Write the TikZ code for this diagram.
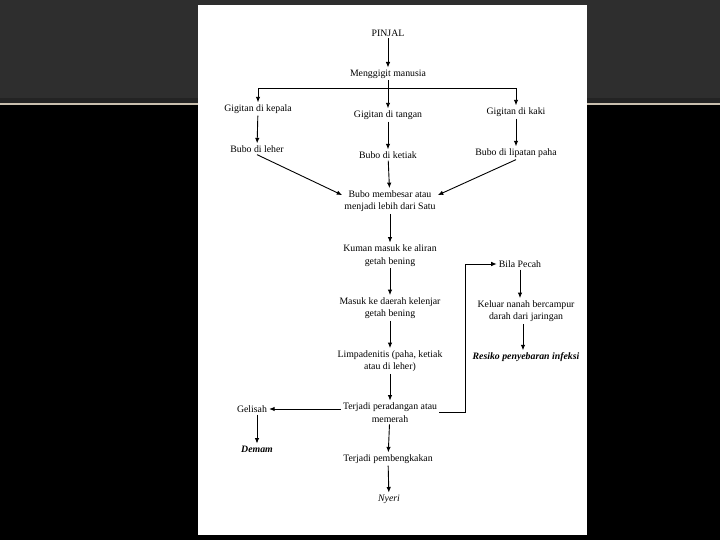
\documentclass[tikz,border=0pt]{standalone}
\usepackage{fontspec}
\setmainfont{Liberation Serif}
\usetikzlibrary{arrows.meta}

\definecolor{bandgray}{HTML}{2E2E2E}
\definecolor{banddark}{HTML}{232323}
\definecolor{bandline}{HTML}{C9BFAE}

\begin{document}
\begin{tikzpicture}[
    x=1pt, y=-1pt,
    >={Latex[length=5.5pt, width=4.5pt]},
    lbl/.style={align=center, font=\fontsize{9.8}{12.5}\selectfont, inner sep=2pt},
    lblbi/.style={lbl, font=\fontsize{9.8}{12.5}\selectfont\bfseries\itshape},
    lblit/.style={lbl, font=\fontsize{9.8}{12.5}\selectfont\itshape},
    flow/.style={->, line width=0.9pt}
]
\useasboundingbox (0,0) rectangle (720,540);

% slide background
\fill[black] (0,0) rectangle (720,540);
\fill[bandgray] (0,0) rectangle (720,98);
\fill[banddark] (0,98) rectangle (720,103);
\fill[bandline] (0,103) rectangle (720,105.5);
\fill[white] (198,5) rectangle (587,535);

\node[lbl] (pinjal) at (388,33) {PINJAL};
\node[lbl] (gigit) at (388,74) {Menggigit manusia};
\draw[flow] (pinjal) -- (gigit);

\node[lbl] (kepala) at (258,109) {Gigitan di kepala};
\node[lbl] (tangan) at (388,115) {Gigitan di tangan};
\node[lbl] (kaki) at (516,112) {Gigitan di kaki};

\coordinate (bar) at (388,88);
\draw[flow] (bar) -| (kepala);
\draw[flow] (bar) -| (kaki);
\draw[flow] (gigit) -- (tangan);

\node[lbl] (leher) at (257,149) {Bubo di leher};
\node[lbl] (ketiak) at (388,155) {Bubo di ketiak};
\node[lbl] (paha) at (516,153) {Bubo di lipatan paha};
\draw[flow] (kepala) -- (leher);
\draw[flow] (tangan) -- (ketiak);
\draw[flow] (kaki) -- (paha);

\node[lbl] (membesar) at (390,201) {Bubo membesar atau\\menjadi lebih dari Satu};
\draw[flow] (leher.south) -- ([yshift=-7pt]membesar.north west);
\draw[flow] (ketiak) -- (membesar);
\draw[flow] (paha.south) -- ([yshift=-7pt]membesar.north east);

\node[lbl] (kuman) at (390,255.5) {Kuman masuk ke aliran\\getah bening};
\node[lbl] (kelenjar) at (390,308) {Masuk ke daerah kelenjar\\getah bening};
\node[lbl] (limpa) at (390,361) {Limpadenitis (paha, ketiak\\atau di leher)};
\node[lbl] (radang) at (390,412.5) {Terjadi peradangan atau\\memerah};
\draw[flow] (membesar) -- (kuman);
\draw[flow] (kuman) -- (kelenjar);
\draw[flow] (kelenjar) -- (limpa);
\draw[flow] (limpa) -- (radang);

\node[lbl] (gelisah) at (252,409) {Gelisah};
\node[lblbi] (demam) at (257,449) {Demam};
\draw[flow] (radang.west |- gelisah) -- (gelisah);
\draw[flow] (gelisah.south -| demam) -- (demam);

\node[lbl] (bengkak) at (388,459) {Terjadi pembengkakan};
\node[lblit] (nyeri) at (389,499) {Nyeri};
\draw[flow] (radang) -- (bengkak);
\draw[flow] (bengkak) -- (nyeri);

% branch to the right
\node[lbl] (pecah) at (520,264) {Bila Pecah};
\node[lbl] (nanah) at (526,311) {Keluar nanah bercampur\\darah dari jaringan};
\node[lblbi] (resiko) at (526,357) {Resiko penyebaran infeksi};
\draw[flow] (radang.east) -- ++(26,0) |- (pecah);
\draw[flow] (pecah.south) -- (pecah.south |- nanah.north);
\draw[flow] ([xshift=-3pt]nanah.south) -- ([xshift=-3pt]nanah.south |- resiko.north);

\end{tikzpicture}
\end{document}
